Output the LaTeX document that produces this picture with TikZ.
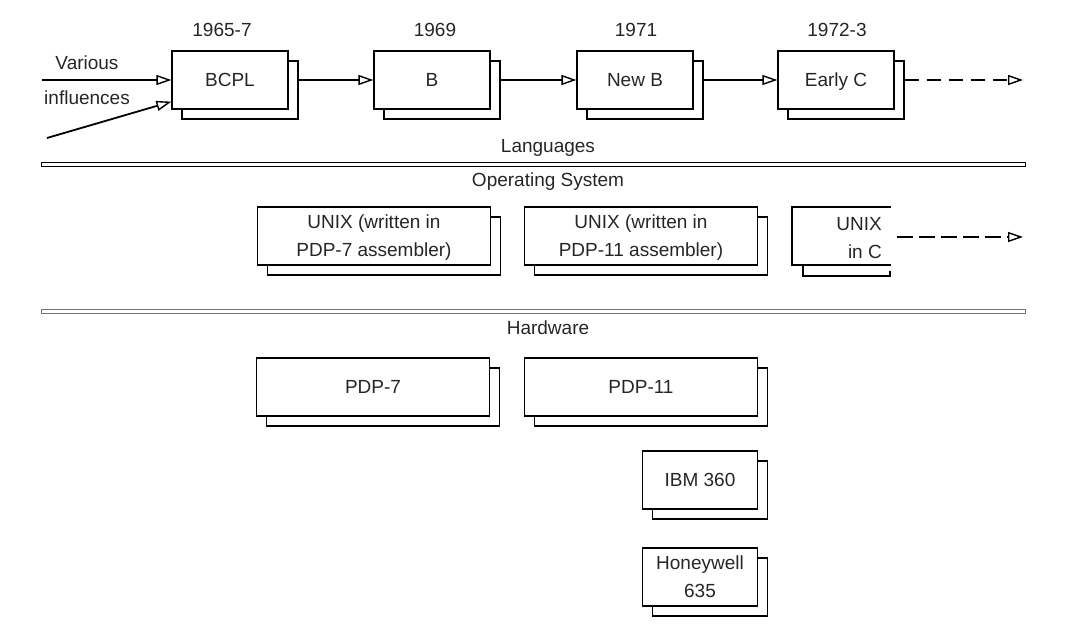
\documentclass[tikz,border=0pt]{standalone}
\usepackage{fontspec}
\setmainfont{Liberation Sans}
\usetikzlibrary{arrows.meta, shadows, positioning}

\begin{document}
\begin{tikzpicture}[x=1pt, y=-1pt,
    font=\fontsize{19}{28}\selectfont, text=black!85,
    boxline/.style={line width=1.3pt, line cap=rect},
    card/.style={draw, boxline, fill=white, minimum height=58pt, align=center, inner sep=0pt, text depth=0pt,
        copy shadow={shadow xshift=10pt, shadow yshift=-10pt, draw, fill=white, line width=1.3pt}},
    small/.style={card, minimum width=116pt},
    wide/.style={card, minimum width=233pt},
    twoline/.style={execute at begin node={\rule{0pt}{18.5pt}}},
    tip/.style={-{Triangle[open, length=15pt, width=10pt, line width=1.4pt]}, line width=1.8pt},
    dashline/.style={tip, dash pattern=on 14pt off 8pt}]
    \useasboundingbox (0,0) rectangle (1079,640);

    \node (various) at (87,63) {Various};
    \node (influences) at (87,98) {influences};
    \coordinate (vstart) at (42,80);
    \coordinate (istart) at (47,138);

    \node[small] (bcpl) at (230,80) {BCPL};
    \node[small] (b) at (432,80) {B};
    \node[small] (newb) at (635,80) {New B};
    \node[small] (earlyc) at (836,80) {Early C};
    \node at (222,30) {1965-7};
    \node at (435,30) {1969};
    \node at (636,30) {1971};
    \node at (837,30) {1972-3};
    \coordinate (langend) at (1023,80);

    \draw[tip] (vstart) -- (vstart -| bcpl.west);
    \draw[tip] (istart) -- ([yshift=8pt]bcpl.south west);
    \draw[tip] ([xshift=10pt]bcpl.east) -- (b);
    \draw[tip] ([xshift=10pt]b.east) -- (newb);
    \draw[tip] ([xshift=10pt]newb.east) -- (earlyc);
    \draw[dashline] ([xshift=10pt]earlyc.east) -- (langend);

    \node (lang) at (548,148) {Languages};
    \draw[line width=1pt] (41,162) rectangle (1025,166);
    \node (os) at (548,182) {Operating System};

    \node[wide, twoline] (unix7) at (374,236) {UNIX (written in\\PDP-7 assembler)};
    \node[wide, twoline] (unix11) at (641,236) {UNIX (written in\\PDP-11 assembler)};
    \node[anchor=east, align=right, text depth=0pt, inner sep=0pt] (unixc) at (882,238) {UNIX\\in C};
    \draw[boxline] (890,207) -- (792,207) -- (792,265) -- (890,265);
    \draw[boxline] (803,265) -- (803,276) -- (890,276) -- (890,272);
    \coordinate (osend) at (1023,237);
    \draw[dashline, dash pattern=on 16pt off 6pt, line width=2.2pt] ([xshift=15pt]unixc.east |- osend) -- (osend);

    \draw[line width=0.8pt, draw=black!55] (41,309) rectangle (1025,313);
    \node (hw) at (548,328) {Hardware};

    \node[wide] (pdp7) at (373,387) {PDP-7};
    \node[wide] (pdp11) at (641,387) {PDP-11};
    \node[small, minimum width=115pt] (ibm) at (700,480) {IBM 360};
    \node[small, twoline, minimum width=115pt] (honeywell) at (700,577) {Honeywell\\635};
\end{tikzpicture}
\end{document}
